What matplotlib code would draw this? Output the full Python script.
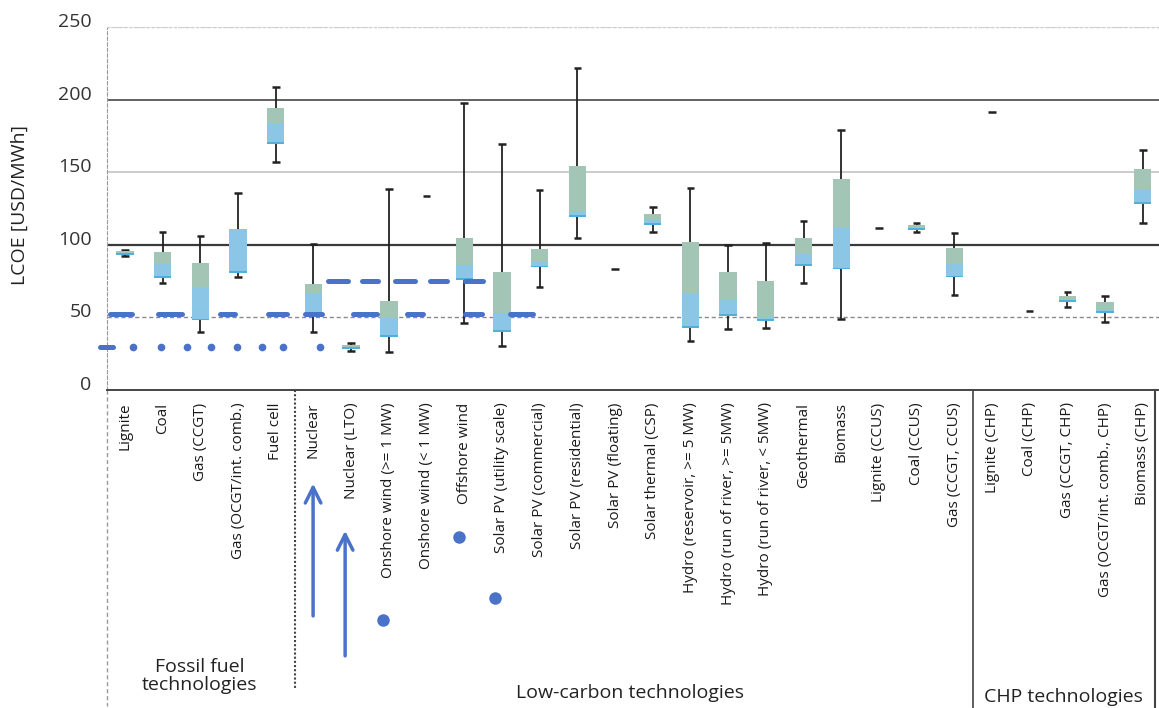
import numpy as np
import matplotlib
matplotlib.use('Agg')
from matplotlib import pyplot as plt
from matplotlib import transforms

plt.rcParams['font.family'] = ['Open Sans', 'DejaVu Sans']

techs = ['Lignite', 'Coal', 'Gas (CCGT)', 'Gas (OCGT/int. comb.)', 'Fuel cell',
         'Nuclear', 'Nuclear (LTO)', 'Onshore wind (>= 1 MW)', 'Onshore wind (< 1 MW)',
         'Offshore wind', 'Solar PV (utility scale)', 'Solar PV (commercial)',
         'Solar PV (residential)', 'Solar PV (floating)', 'Solar thermal (CSP)',
         'Hydro (reservoir, >= 5 MW)', 'Hydro (run of river, >= 5MW)',
         'Hydro (run of river, < 5MW)', 'Geothermal', 'Biomass', 'Lignite (CCUS)',
         'Coal (CCUS)', 'Gas (CCGT, CCUS)', 'Lignite (CHP)', 'Coal (CHP)',
         'Gas (CCGT, CHP)', 'Gas (OCGT/int. comb., CHP)', 'Biomass (CHP)']

lo  = [92, 73.5, 40, 77.5, 157, 40, 27, 26.3, 133.8, 46, 30, 71, 105, 83.4, 109,
       34, 42, 43, 73.6, 49, 111.8, 108.6, 65.4, 191.6, 54.6, 57, 47, 115]
q1  = [93, 77, 48, 80.5, 169.5, 50.5, 28.5, 36.7, 133.8, 76, 40, 84.5, 119, 83.4, 113.6,
       43, 51, 47.5, 85.4, 83, 111.8, 110.2, 77.6, 191.6, 54.6, 60.6, 53, 128]
med = [94, 87, 71, 110, 184, 67, 29.6, 49.5, 133.8, 86, 53, 88, 123, 83.4, 117,
       66.5, 63, 50, 94, 112, 111.8, 111.8, 87, 191.6, 54.6, 62.5, 56, 138]
q3  = [95.5, 95, 87.5, 111, 194, 73, 30.8, 61, 133.8, 105, 81, 97, 154.5, 83.4, 121,
       102, 81, 75, 104.6, 145, 111.8, 113.4, 97.6, 191.6, 54.6, 64.8, 60.6, 152]
hi  = [96.5, 109, 106, 136, 208.5, 100.5, 32.4, 138.5, 133.8, 198, 169.5, 138, 221.5, 83.4, 126,
       139, 100, 101.5, 116.4, 179, 111.8, 115, 108, 191.6, 54.6, 67.5, 64.8, 165]

groups = ['Fossil fuel\ntechnologies', 'Low-carbon technologies', 'CHP technologies']

# hand drawn pen marks on the scan
pen_52 = [(-0.40, 0.19), (0.88, 1.51), (2.52, 2.92), (3.79, 4.30), (4.77, 5.22),
          (6.05, 6.68), (7.48, 7.90), (9.02, 9.47), (10.21, 10.82)]
pen_75 = [(5.38, 5.92), (6.29, 6.71), (7.16, 7.69), (8.09, 8.54), (9.02, 9.50)]
pen_30_dots = [0.21, 0.95, 1.64, 2.28, 2.97, 3.63, 4.19, 5.17]
pen_30_dash = (-0.66, -0.32)

x = np.arange(len(techs))
lo, q1, med, q3, hi = map(np.array, (lo, q1, med, q3, hi))
single = hi == lo

fig = plt.figure(figsize=(11.59, 7.08), dpi=100)
ax = fig.add_axes([107/1159, 1-390/708, 1-107/1159, 363/708])
ax.set_xlim(-0.477, 27.43)
ax.set_ylim(0, 250)

# grid lines, as in the scan
for lvl, col, lw, ls in [(50, '#8a8a8a', 1.0, (0, (3, 2))), (100, '#3a3a3a', 1.6, '-'),
                         (150, '#c4c4c4', 1.2, '-'), (200, '#555555', 1.3, '-'),
                         (250, '#cfcfcf', 1.0, (0, (2, 2)))]:
    ax.axhline(lvl, color=col, lw=lw, ls=ls, zorder=1)

box = ~single
ax.vlines(x[box], lo[box], hi[box], color='#222222', lw=1.3, zorder=2)
ax.hlines(lo[box], x[box]-0.1, x[box]+0.1, color='#222222', lw=1.8, zorder=2)
ax.hlines(hi[box], x[box]-0.1, x[box]+0.1, color='#222222', lw=1.8, zorder=2)
ax.bar(x[box], (med-q1)[box], bottom=q1[box], width=0.46, color='#8cc6e6', zorder=3)
ax.bar(x[box], (q3-med)[box], bottom=med[box], width=0.46, color='#a3c5b5', zorder=3)
ax.bar(x[box], 1.2, bottom=q1[box], width=0.46, color='#4fb0dc', zorder=3)
ax.hlines(lo[single], x[single]-0.1, x[single]+0.1, color='#222222', lw=1.8, zorder=2)

blue = '#4a72c8'
for a, b in pen_52:
    ax.plot([a, b], [52, 52], color=blue, lw=3.6, solid_capstyle='round', clip_on=False, zorder=4)
for a, b in pen_75:
    ax.plot([a, b], [75, 75], color=blue, lw=3.6, solid_capstyle='round', clip_on=False, zorder=4)
ax.plot(pen_30_dash, [29.6, 29.6], color=blue, lw=3.6, solid_capstyle='round', clip_on=False, zorder=4)
ax.plot(pen_30_dots, [29.6]*len(pen_30_dots), 'o', color=blue, ms=4.5, zorder=4)

ax.spines['right'].set_visible(False)
ax.spines['top'].set_color('#cfcfcf')
ax.spines['top'].set_linestyle((0, (2, 2)))
ax.spines['left'].set_color('#9a9a9a')
ax.spines['left'].set_linestyle((0, (3, 2)))
ax.spines['bottom'].set_color('#444444')
ax.spines['bottom'].set_linewidth(1.4)

ax.set_xticks(x, techs, rotation=90, fontsize=11, color='#1a1a1a')
ax.tick_params(axis='x', length=0, pad=9)
ax.set_yticks([0, 50, 100, 150, 200, 250])
ax.tick_params(axis='y', length=0, pad=11, labelsize=14, labelcolor='#333333')
shift = transforms.ScaledTranslation(0, 0.07, fig.dpi_scale_trans)
for lab in ax.get_yticklabels():
    lab.set_transform(lab.get_transform() + shift)

fig.text(20/1159, 1-205/708, 'LCOE [USD/MWh]', rotation=90, fontsize=14,
         ha='center', va='center', color='#222222')

trans = transforms.blended_transform_factory(ax.transData, ax.transAxes)
ax.plot([-0.477, -0.477], [0, -0.87], transform=trans, clip_on=False, color='#9a9a9a', lw=1.0, ls=(0, (3, 2)))
ax.plot([4.5, 4.5], [0, -0.826], transform=trans, clip_on=False, color='#444444', lw=1.5, ls=(0, (1, 1)))
ax.plot([22.5, 22.5], [0, -0.876], transform=trans, clip_on=False, color='#444444', lw=1.2)
ax.plot([27.32, 27.32], [0, -0.876], transform=trans, clip_on=False, color='#444444', lw=1.5)

fig.text(200/1159, 1-676/708, groups[0], ha='center', va='center', fontsize=14, linespacing=1.05, color='#222222')
fig.text(630/1159, 1-693/708, groups[1], ha='center', va='center', fontsize=14, color='#222222')
fig.text(1063/1159, 1-697/708, groups[2], ha='center', va='center', fontsize=14, color='#222222')

# pen arrows and dots in the label area
ax.annotate('', xy=(4.99, -0.25), xytext=(4.99, -0.63), xycoords=trans, textcoords=trans,
            arrowprops=dict(arrowstyle='->', color=blue, lw=2.5, mutation_scale=28), annotation_clip=False)
ax.annotate('', xy=(5.84, -0.38), xytext=(5.84, -0.74), xycoords=trans, textcoords=trans,
            arrowprops=dict(arrowstyle='->', color=blue, lw=2.5, mutation_scale=28), annotation_clip=False)
ax.plot([6.84, 8.86, 9.81], [-0.634, -0.405, -0.573], 'o', color=blue, ms=8,
        transform=trans, clip_on=False)

fig.savefig('out.png', dpi=100)
